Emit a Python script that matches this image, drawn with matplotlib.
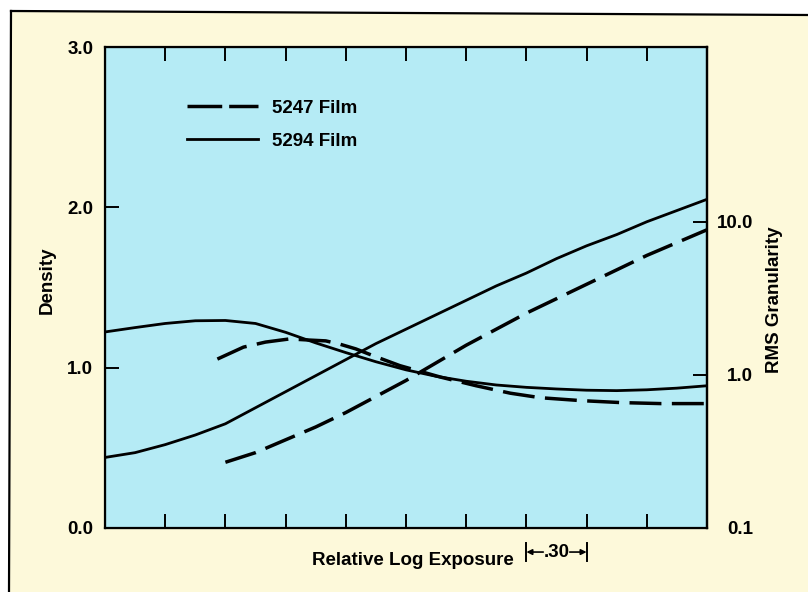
import matplotlib
matplotlib.use("Agg")
import matplotlib.pyplot as plt
from matplotlib.lines import Line2D
from matplotlib.patches import Polygon
import matplotlib.transforms as mtransforms
from matplotlib.ticker import NullLocator, FixedLocator, FixedFormatter

# ---------------- data ----------------
# characteristic curves (Density vs relative log exposure)
logE_5294_D = [0.0, 0.15, 0.30, 0.45, 0.60, 0.75, 0.90, 1.05, 1.20, 1.35, 1.50, 1.65,
               1.80, 1.95, 2.10, 2.25, 2.40, 2.55, 2.70, 2.85, 3.0]
D_5294 = [0.44, 0.47, 0.52, 0.58, 0.65, 0.75, 0.85, 0.95, 1.05, 1.15, 1.24, 1.33,
          1.42, 1.51, 1.59, 1.68, 1.76, 1.83, 1.91, 1.98, 2.05]

logE_5247_D = [0.60, 0.75, 0.90, 1.05, 1.20, 1.35, 1.50, 1.65, 1.80, 1.95, 2.10,
               2.25, 2.40, 2.55, 2.70, 2.85, 3.0]
D_5247 = [0.41, 0.47, 0.55, 0.63, 0.72, 0.82, 0.92, 1.03, 1.14, 1.24, 1.34,
          1.43, 1.52, 1.61, 1.70, 1.78, 1.86]

# granularity curves (RMS granularity, log axis)
logE_5294_G = [0.0, 0.15, 0.30, 0.45, 0.60, 0.75, 0.90, 1.05, 1.20, 1.35, 1.50, 1.65,
               1.80, 1.95, 2.10, 2.25, 2.40, 2.55, 2.70, 2.85, 3.0]
G_5294 = [1.91, 2.04, 2.17, 2.26, 2.27, 2.17, 1.90, 1.62, 1.40, 1.22, 1.08, 0.98,
          0.91, 0.86, 0.83, 0.81, 0.795, 0.79, 0.80, 0.82, 0.85]

logE_5247_G = [0.56, 0.69, 0.80, 0.92, 1.02, 1.10, 1.17, 1.25, 1.34, 1.47, 1.67, 1.85,
               2.02, 2.17, 2.37, 2.57, 2.77, 3.0]
G_5247 = [1.27, 1.52, 1.64, 1.72, 1.69, 1.67, 1.59, 1.48, 1.33, 1.15, 0.97, 0.85,
          0.76, 0.71, 0.68, 0.66, 0.65, 0.65]

x_ticks = [0.3, 0.6, 0.9, 1.2, 1.5, 1.8, 2.1, 2.4, 2.7]
d_ticks = [0.0, 1.0, 2.0, 3.0]
d_labels = ["0.0", "1.0", "2.0", "3.0"]
g_ticks = [0.1, 1.0, 10.0]
g_labels = ["0.1", "1.0", "10.0"]
scale_start, scale_end = 2.1, 2.4
scale_text = ".30"

labels = ["5247 Film", "5294 Film"]

# ---------------- style ----------------
CREAM = "#fdf9da"
BLUE = "#b5ebf5"
FONT = "Liberation Sans"
FS = 13.5
plt.rcParams["font.family"] = [FONT, "DejaVu Sans"]
plt.rcParams["font.weight"] = "bold"
plt.rcParams["lines.scale_dashes"] = False

W, H = 808, 592
fig = plt.figure(figsize=(W / 100, H / 100), dpi=100)
fig.patch.set_facecolor("white")

def fx(px):
    return px / W

def fy(py):
    return 1 - py / H

# cream page with black top/left borders
page = Polygon([(fx(11), fy(11)), (1.0, fy(15)), (1.0, 0.0), (fx(9), 0.0)],
               closed=True, transform=fig.transFigure, facecolor=CREAM,
               edgecolor="none", zorder=-10)
fig.patches.append(page)
fig.lines.append(Line2D([fx(11), 1.0], [fy(11), fy(15)], transform=fig.transFigure,
                        color="black", lw=1.6))
fig.lines.append(Line2D([fx(11), fx(9)], [fy(11), 0.0], transform=fig.transFigure,
                        color="black", lw=1.6))

ax = fig.add_axes([fx(105), fy(528), fx(707) - fx(105), fy(47) - fy(528)])
ax.set_facecolor(BLUE)
ax.set_xlim(0, 3.0)
ax.set_ylim(0, 3.0)
for s in ax.spines.values():
    s.set_linewidth(1.6)

ax.set_xticks(x_ticks)
ax.set_xticklabels([])
ax.tick_params(axis="x", direction="in", length=10, width=1.4, top=True, bottom=True)
ax.set_yticks(d_ticks)
ax.set_yticklabels(d_labels)
ax.tick_params(axis="y", direction="in", length=10, width=1.4, pad=8.5, labelsize=FS)

ax2 = ax.twinx()
ax2.set_yscale("log")
ax2.set_ylim(0.1, 139)
ax2.yaxis.set_major_locator(FixedLocator(g_ticks))
ax2.yaxis.set_major_formatter(FixedFormatter(g_labels))
ax2.yaxis.set_minor_locator(NullLocator())
ax2.tick_params(axis="y", direction="in", length=10, width=1.4, pad=33, labelsize=FS)
for lab in ax2.get_yticklabels():
    lab.set_horizontalalignment("right")
ax2.spines["right"].set_linewidth(1.6)

DASH = (0, (23, 7.5))
LW_S = 2.0
LW_D = 2.5

ax.plot(logE_5294_D, D_5294, color="black", lw=LW_S)
ax.plot(logE_5247_D, D_5247, color="black", lw=LW_D, ls=DASH, dash_capstyle="butt")
ax2.plot(logE_5294_G, G_5294, color="black", lw=LW_S)
ax2.plot(logE_5247_G, G_5247, color="black", lw=LW_D, ls=DASH, dash_capstyle="butt")

handles = [Line2D([], [], color="black", lw=LW_D, ls=(0, (25, 5))),
           Line2D([], [], color="black", lw=LW_S)]
leg = ax2.legend(handles, labels, loc="upper left", bbox_to_anchor=(0.137, 0.891),
                 frameon=False, fontsize=FS, handlelength=3.75, handletextpad=0.75,
                 labelspacing=0.85, borderpad=0, borderaxespad=0)

ax.set_ylabel("Density", fontsize=FS, fontweight="bold")
ax.yaxis.set_label_coords(-0.082, 0.515)
ax2.set_ylabel("RMS Granularity", fontsize=FS, fontweight="bold")
ax2.yaxis.set_label_coords(1.098, 0.475)
ax.set_xlabel("Relative Log Exposure", fontsize=FS, fontweight="bold")
ax.xaxis.set_label_coords(0.512, -0.05)

# .30 scale indicator
trans = mtransforms.blended_transform_factory(ax.transData, ax.transAxes)
for xv in (scale_start, scale_end):
    ax.plot([xv, xv], [-0.031, -0.069], transform=trans, color="black", lw=1.4,
            clip_on=False)
mid = (scale_start + scale_end) / 2
ax.text(mid, -0.05, scale_text, transform=trans, ha="center", va="center",
        fontsize=FS, fontweight="bold")
ax.annotate("", xy=(scale_start, -0.05), xytext=(mid - 0.066, -0.05),
            xycoords=trans, textcoords=trans,
            arrowprops=dict(arrowstyle="-|>", color="black", lw=1.2,
                            mutation_scale=8, shrinkA=0, shrinkB=0))
ax.annotate("", xy=(scale_end, -0.05), xytext=(mid + 0.066, -0.05),
            xycoords=trans, textcoords=trans,
            arrowprops=dict(arrowstyle="-|>", color="black", lw=1.2,
                            mutation_scale=8, shrinkA=0, shrinkB=0))

fig.savefig("out.png", dpi=100)
